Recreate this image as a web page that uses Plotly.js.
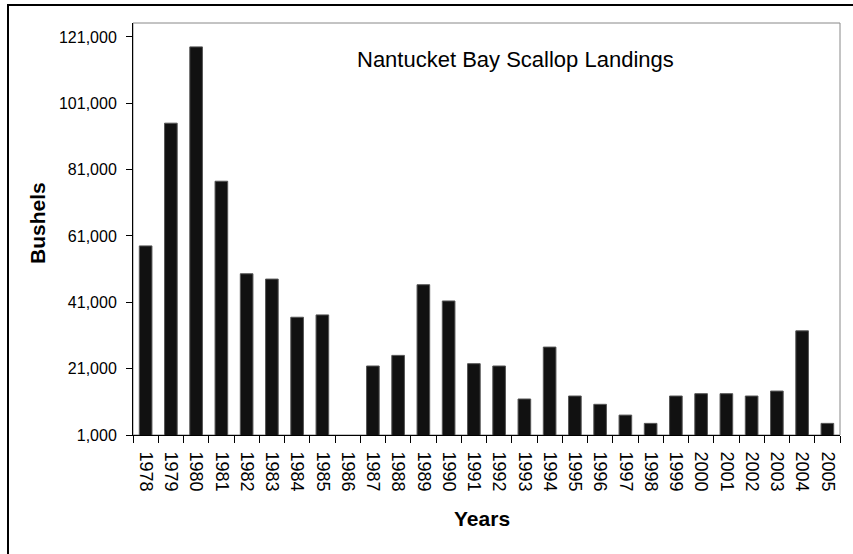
<!DOCTYPE html>
<html>
<head>
<meta charset="utf-8">
<script src="https://cdn.plot.ly/plotly-3.0.1.min.js"></script>
<style>html,body{margin:0;padding:0;background:#fff;}#chart{width:853px;height:554px;}</style>
</head>
<body>
<div id="chart"></div>
<script>
const years = ["1978","1979","1980","1981","1982","1983","1984","1985","1986","1987","1988","1989","1990","1991","1992","1993","1994","1995","1996","1997","1998","1999","2000","2001","2002","2003","2004","2005"];
const bushels = [58000,95000,118000,77500,49600,48000,36500,37200,0,21800,25000,46300,41400,22500,21800,11850,27500,12750,10250,7000,4500,12750,13450,13450,12750,14250,32400,4500];
const yTicks = [1000,21000,41000,61000,81000,101000,121000];
const chartTitle = "Nantucket Bay Scallop Landings";
const xTitle = "Years";
const yTitle = "Bushels";

const W = 853, H = 554, L = 133, R = 13, T = 23, B = 119;
const pw = W - L - R, ph = H - T - B;
const px = x => (x - L) / pw;
const py = y => (H - B - y) / ph;
const font = "Arial, 'Liberation Sans', sans-serif";

const data = [{
  type: "bar",
  x: years,
  y: bushels,
  marker: {color: "#111111", line: {color: "#555555", width: 1}},
  hoverinfo: "x+y"
}];

const layout = {
  width: W, height: H,
  margin: {l: L, r: R, t: T, b: B, pad: 0},
  paper_bgcolor: "#ffffff",
  plot_bgcolor: "#ffffff",
  showlegend: false,
  bargap: 0.5,
  font: {family: font, color: "#000"},
  xaxis: {
    type: "category",
    tickson: "boundaries",
    ticks: "outside", ticklen: 7, tickcolor: "#000", tickwidth: 1,
    tickangle: 90,
    tickfont: {size: 18, family: font, color: "#000"},
    ticklabelstandoff: 12,
    showline: true, linecolor: "#000", linewidth: 1,
    showgrid: false, zeroline: false,
    automargin: false
  },
  yaxis: {
    range: [1000, 125200],
    tickvals: yTicks,
    tickformat: ",d",
    ticks: "outside", ticklen: 6, tickcolor: "#000", tickwidth: 1,
    tickfont: {size: 16, family: font, color: "#000"},
    ticklabelstandoff: 6,
    showline: true, linecolor: "#000", linewidth: 1,
    showgrid: false, zeroline: false,
    automargin: false
  },
  shapes: [
    {type: "rect", xref: "paper", yref: "paper", x0: 0, x1: 1, y0: 0, y1: 1,
     line: {color: "#888888", width: 1}, layer: "below"},
    {type: "rect", xref: "paper", yref: "paper",
     x0: px(8), x1: px(858), y0: py(560), y1: py(5),
     line: {color: "#000000", width: 2}}
  ],
  annotations: [
    {text: chartTitle, xref: "paper", yref: "paper", x: px(515), y: py(60),
     xanchor: "center", yanchor: "middle", showarrow: false,
     font: {size: 22, family: font, color: "#000"}},
    {text: "<b>" + yTitle + "</b>", xref: "paper", yref: "paper", x: px(37), y: py(223),
     xanchor: "center", yanchor: "middle", showarrow: false, textangle: -90,
     font: {size: 21, family: font, color: "#000"}},
    {text: "<b>" + xTitle + "</b>", xref: "paper", yref: "paper", x: px(482), y: py(518),
     xanchor: "center", yanchor: "middle", showarrow: false,
     font: {size: 21, family: font, color: "#000"}}
  ]
};

Plotly.newPlot("chart", data, layout, {displayModeBar: false, staticPlot: true});
</script>
</body>
</html>
